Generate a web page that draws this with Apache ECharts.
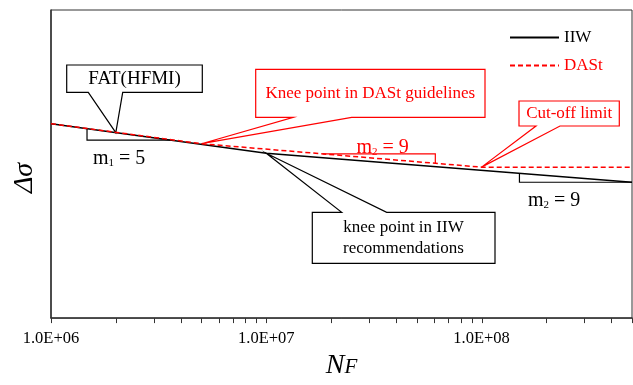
<!DOCTYPE html>
<html><head><meta charset="utf-8">
<script src="https://cdn.jsdelivr.net/npm/echarts@6/dist/echarts.min.js"></script>
<style>html,body{margin:0;padding:0;background:#fff}#c{width:633px;height:385px}</style>
</head><body><div id="c"></div>
<script>
// ---- data ----
const seriesNames = ['IIW', 'DASt'];
const iiwN = [1e6, 1e7, 5e8];
const iiwS = [63.1, 53.5, 44.1];
const dastN = [1e6, 5e6, 1e8, 5e8];
const dastS = [63.1, 56.6, 49.0, 49.0];
const tickValues = [1e6, 2e6, 3e6, 4e6, 5e6, 6e6, 7e6, 8e6, 9e6,
                    1e7, 2e7, 3e7, 4e7, 5e7, 6e7, 7e7, 8e7, 9e7,
                    1e8, 2e8, 3e8, 4e8, 5e8];
const labelValues = [1e6, 1e7, 1e8];
const tickLabels = ['1.0E+06', '1.0E+07', '1.0E+08'];
const yAxisTitle = 'Δσ';
const calloutTexts = ['FAT(HFMI)', 'Knee point in DASt guidelines', 'Cut-off limit', 'knee point in IIW\nrecommendations'];
const calloutAnchorN = [2e6, 5e6, 1e8, 1e7];
const calloutSeries = [0, 1, 1, 0];
const slopeSub = ['1', '2', '2'];
const slopeValue = ['5', '9', '9'];
const slopeFromN = [1.47e6, 1.83e7, 1.5e8];
const slopeToN = [3.6e6, 6.1e7, 5e8];
const slopeSeries = [0, 1, 0];

const SERIF = '"Liberation Serif", "Times New Roman", serif';
const RED = '#ff0000';
const BLACK = '#000000';
const AX = '#333333';

const chart = echarts.init(document.getElementById('c'), null, {renderer: 'canvas'});

function fmtLabel(v) {
  for (let i = 0; i < labelValues.length; i++) {
    if (Math.abs(Math.log10(v) - Math.log10(labelValues[i])) < 1e-6) return tickLabels[i];
  }
  return '';
}

chart.setOption({
  animation: false,
  backgroundColor: '#fff',
  grid: {left: 51, right: 1, top: 10, bottom: 58, show: true, borderColor: AX, borderWidth: 1, backgroundColor: 'transparent'},
  legend: {
    orient: 'vertical', left: 504, top: 24, itemWidth: 49, itemHeight: 20, itemGap: 11,
    itemStyle: {color: 'transparent', borderColor: 'transparent', borderWidth: 0, opacity: 0},
    textStyle: {fontFamily: SERIF, fontSize: 17},
    data: [
      {name: seriesNames[0], textStyle: {color: BLACK}},
      {name: seriesNames[1], textStyle: {color: RED}}
    ]
  },
  xAxis: {
    type: 'log', logBase: 10, min: 1e6, max: 5e8,
    name: '{n|N}{f|F}', nameLocation: 'middle', nameGap: 31,
    nameTextStyle: {rich: {
      n: {fontFamily: SERIF, fontStyle: 'italic', fontSize: 28, color: BLACK, verticalAlign: 'bottom'},
      f: {fontFamily: SERIF, fontStyle: 'italic', fontSize: 21, color: BLACK, verticalAlign: 'bottom', padding: [0, 0, 2, 0]}
    }},
    splitLine: {show: false},
    axisLine: {lineStyle: {color: AX, width: 1.5}},
    axisTick: {show: false},
    minorTick: {show: false},
    axisLabel: {customValues: labelValues, formatter: fmtLabel, fontFamily: SERIF, fontSize: 16.5, color: BLACK, margin: 12}
  },
  yAxis: {
    type: 'value', min: 0, max: 100,
    axisLabel: {show: false}, axisTick: {show: false}, splitLine: {show: false},
    axisLine: {show: true, lineStyle: {color: AX, width: 1.5}}
  },
  series: [
    {name: seriesNames[0], type: 'line', symbol: 'none', z: 3,
     data: iiwN.map((n, i) => [n, iiwS[i]]),
     lineStyle: {color: BLACK, width: 1.5}, itemStyle: {color: BLACK}},
    {name: seriesNames[1], type: 'line', symbol: 'none', z: 4,
     data: dastN.map((n, i) => [n, dastS[i]]),
     lineStyle: {color: RED, width: 1.5, type: [5, 3]}, itemStyle: {color: RED}}
  ]
});

// ---- annotations placed from the axes ----
const seriesData = [iiwN.map((n, i) => [n, iiwS[i]]), dastN.map((n, i) => [n, dastS[i]])];
function px(p) { return chart.convertToPixel({xAxisIndex: 0, yAxisIndex: 0}, p); }
function onLine(si, N) {
  const d = seriesData[si];
  const x = px([N, 0])[0];
  for (let i = 0; i < d.length - 1; i++) {
    const a = px(d[i]), b = px(d[i + 1]);
    if (x >= a[0] - 1e-6 && x <= b[0] + 1e-6) {
      const t = (x - a[0]) / (b[0] - a[0]);
      return [x, a[1] + t * (b[1] - a[1])];
    }
  }
  return px(d[d.length - 1]);
}

const g = [];
// x-axis ticks (decade subdivisions) from the log scale
const axisY = px([1e6, 0])[1];
tickValues.forEach(v => {
  const x = Math.round(px([v, 0])[0]) + 0.5;
  g.push({type: 'line', z: 1, shape: {x1: x, y1: axisY, x2: x, y2: axisY + 5}, style: {stroke: AX, lineWidth: 1}});
});

// y-axis title
g.push({type: 'text', z: 5, x: 25, y: 178, rotation: Math.PI / 2, style: {
  text: yAxisTitle, fill: BLACK, fontFamily: SERIF, fontStyle: 'italic', fontSize: 28,
  align: 'center', verticalAlign: 'middle'}});

// callout layouts: box [x1,y1,x2,y2], pointer base x's, side, color, font size, text center
const callLayout = [
  {box: [66.7, 65, 202.3, 92.3], base: [88.3, 122.7], side: 'bottom', color: BLACK, fs: 19, tc: [134.5, 79], lh: 20},
  {box: [255.7, 69.3, 485, 117.3], base: [293.3, 351.7], side: 'bottom', color: RED, fs: 17, tc: [370.3, 93.8], lh: 20},
  {box: [519, 101, 619.3, 126], base: [536, 560], side: 'bottom', color: RED, fs: 17, tc: [569.2, 114], lh: 20},
  {box: [312.3, 212.3, 495, 263.3], base: [341.7, 386.7], side: 'top', color: BLACK, fs: 17, tc: [403.5, 238], lh: 20.4}
];
callLayout.forEach((L, i) => {
  const tip = onLine(calloutSeries[i], calloutAnchorN[i]);
  const [x1, y1, x2, y2] = L.box;
  let pts;
  if (L.side === 'bottom') {
    pts = [[x1, y1], [x2, y1], [x2, y2], [L.base[1], y2], tip, [L.base[0], y2], [x1, y2]];
  } else {
    pts = [[x1, y1], [L.base[0], y1], tip, [L.base[1], y1], [x2, y1], [x2, y2], [x1, y2]];
  }
  g.push({type: 'polygon', z: 1, shape: {points: pts}, style: {fill: '#fff', stroke: L.color, lineWidth: 1.2}});
  g.push({type: 'text', z: 5, x: L.tc[0], y: L.tc[1], style: {
    text: calloutTexts[i], fill: L.color, fontFamily: SERIF, fontSize: L.fs, lineHeight: L.lh,
    align: 'center', verticalAlign: 'middle'}});
});

// slope triangles
const triLayout = [
  {dir: 'below', color: BLACK, label: [93, 158]},
  {dir: 'above', color: RED, label: [356.5, 147]},
  {dir: 'below', color: BLACK, label: [528, 200]}
];
triLayout.forEach((T, i) => {
  const a = onLine(slopeSeries[i], slopeFromN[i]);
  const b = onLine(slopeSeries[i], slopeToN[i]);
  let pts;
  if (T.dir === 'below') pts = [a, [a[0], b[1]], b];
  else pts = [a, [b[0], a[1]], b];
  g.push({type: 'polyline', z: 1, shape: {points: pts}, style: {stroke: T.color, lineWidth: 1.2, fill: null}});
  g.push({type: 'text', z: 5, x: T.label[0], y: T.label[1], style: {
    text: '{m|m}{s|' + slopeSub[i] + '}{m| = ' + slopeValue[i] + '}',
    align: 'left', verticalAlign: 'middle',
    rich: {
      m: {fontFamily: SERIF, fontSize: 20, fill: T.color, color: T.color, verticalAlign: 'bottom', lineHeight: 22},
      s: {fontFamily: SERIF, fontSize: 11, fill: T.color, color: T.color, verticalAlign: 'bottom', lineHeight: 16}
    }}});
});

chart.setOption({graphic: g});
</script>
</body></html>
